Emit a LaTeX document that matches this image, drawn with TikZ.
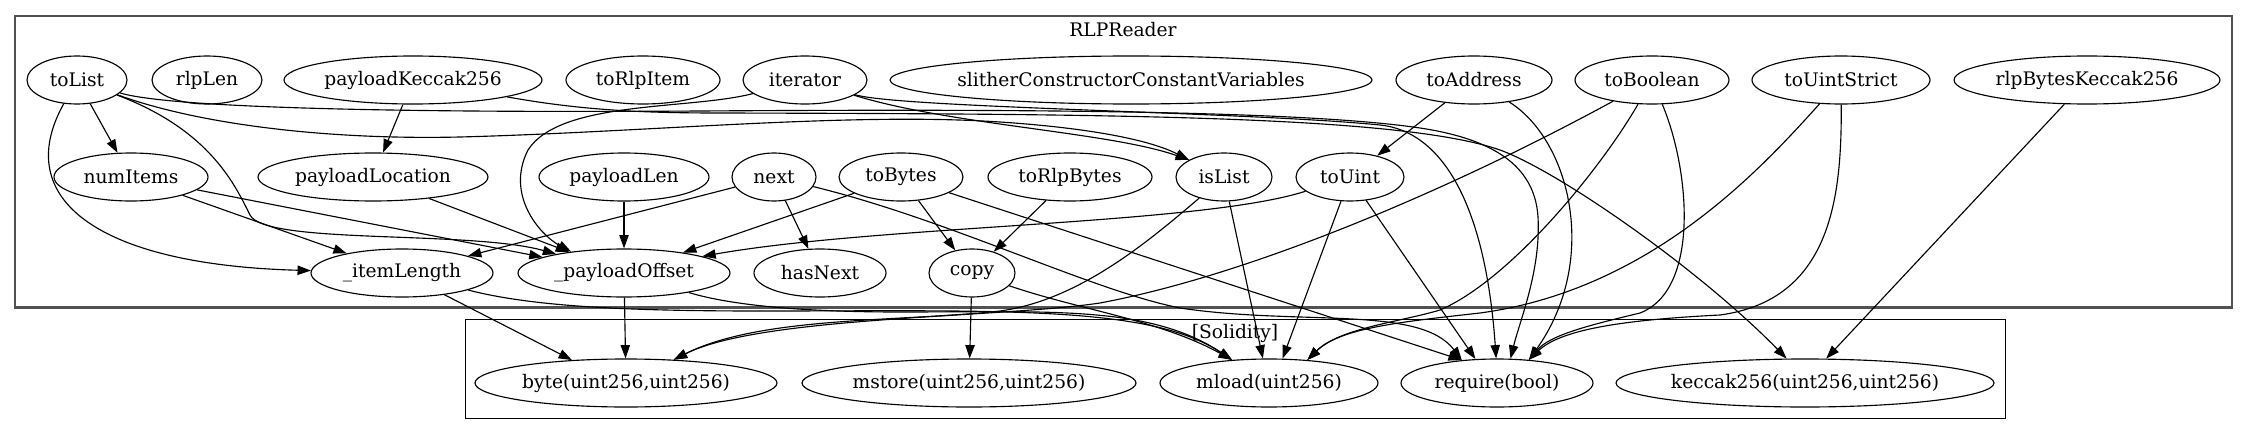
\documentclass[tikz,border=0pt]{standalone}
\usepackage{fontspec}
\setmainfont{DejaVu Serif}
\usetikzlibrary{shapes.geometric,arrows.meta}
\newcommand\zw[1]{\hbox to 0pt{\hss#1\hss}}
\begin{document}
\begin{tikzpicture}[x=0.75pt,y=-0.75pt,
  fn/.style={ellipse, draw, line width=0.85pt, inner sep=0pt, minimum height=36pt, font=\fontsize{14pt}{16pt}\selectfont},
  lbl/.style={inner sep=0pt, font=\fontsize{14pt}{16pt}\selectfont},
  e/.style={-{Triangle[length=10pt,width=7pt]}, line width=0.85pt},
  clusterA/.style={draw=black!68, line width=1.6pt, outer sep=0pt, inner sep=0pt},
  clusterB/.style={draw=black, line width=0.75pt, outer sep=0pt, inner sep=0pt}]
\useasboundingbox (0,0) rectangle (2248,435);

% clusters
\node[clusterA, minimum width=1662.75pt, minimum height=218.6pt] (clR) at (1123.5,161.75) {};
\node[clusterB, minimum width=1155pt, minimum height=74.25pt] (clS) at (1235,368.5) {};
\node[lbl] (lblR) at (1123,30) {RLPReader};
\node[lbl] (lblS) at (1235,333) {[Solidity]};

% row 1
\node[fn, minimum width=75pt] (toList) at (77,80) {\zw{toList}};
\node[fn, minimum width=82.5pt] (rlpLen) at (207,80) {\zw{rlpLen}};
\node[fn, minimum width=193.5pt] (payloadKeccak) at (413,80) {\zw{payloadKeccak256}};
\node[fn, minimum width=115.5pt] (toRlpItem) at (643,80) {\zw{toRlpItem}};
\node[fn, minimum width=93pt] (iterator) at (805,80) {\zw{iterator}};
\node[fn, minimum width=361.5pt] (slither) at (1131,80) {\zw{slitherConstructorConstantVariables}};
\node[fn, minimum width=117pt] (toAddress) at (1474,80) {\zw{toAddress}};
\node[fn, minimum width=115.5pt] (toBoolean) at (1652,80) {\zw{toBoolean}};
\node[fn, minimum width=133.5pt] (toUintStrict) at (1841,80) {\zw{toUintStrict}};
\node[fn, minimum width=199.5pt] (rlpBytesKeccak) at (2087,80) {\zw{rlpBytesKeccak256}};

% row 2
\node[fn, minimum width=115.5pt] (numItems) at (131,177) {\zw{numItems}};
\node[fn, minimum width=172.5pt] (payloadLocation) at (373,177) {\zw{payloadLocation}};
\node[fn, minimum width=127.5pt] (payloadLen) at (624,177) {\zw{payloadLen}};
\node[fn, minimum width=63pt] (next) at (774,177) {\zw{next}};
\node[fn, minimum width=93pt] (toBytes) at (901,177) {\zw{toBytes}};
\node[fn, minimum width=123pt] (toRlpBytes) at (1070,177) {\zw{toRlpBytes}};
\node[fn, minimum width=72pt] (isList) at (1224,177) {\zw{isList}};
\node[fn, minimum width=81pt] (toUint) at (1350,177) {\zw{toUint}};

% row 3
\node[fn, minimum width=136.5pt] (itemLength) at (402,273) {\zw{\_itemLength}};
\node[fn, minimum width=159pt] (payloadOffset) at (624,273) {\zw{\_payloadOffset}};
\node[fn, minimum width=99pt] (hasNext) at (820,273) {\zw{hasNext}};
\node[fn, minimum width=64.5pt] (copy) at (972,273) {\zw{copy}};

% row 4 (Solidity)
\node[fn, minimum width=226.5pt] (byte) at (626,383) {\zw{byte(uint256,uint256)}};
\node[fn, minimum width=250.5pt] (mstore) at (969,383) {\zw{mstore(uint256,uint256)}};
\node[fn, minimum width=163.5pt] (mload) at (1269,383) {\zw{mload(uint256)}};
\node[fn, minimum width=144pt] (require) at (1497,383) {\zw{require(bool)}};
\node[fn, minimum width=283.5pt] (keccak) at (1805,383) {\zw{keccak256(uint256,uint256)}};

% edges
\draw[e] (toList) -- (numItems);
\draw[e] (toList) .. controls (10,200) and (100,265) .. (itemLength);
\draw[e] (toList) .. controls (210,130) and (235,185) .. (250,215) .. controls (265,245) and (470,230) .. (payloadOffset);
\draw[e] (toList) .. controls (200,125) and (330,140) .. (460,137) .. controls (650,132) and (850,112) .. (1000,122) .. controls (1090,128) and (1150,140) .. (isList.154);
\draw[e] (toList) .. controls (170,108) and (400,113) .. (700,111) .. controls (1000,109) and (1300,110) .. (1420,128) .. controls (1500,140) and (1535,170) .. (1538,217) .. controls (1541,270) and (1520,320) .. (require.61);

\draw[e] (iterator) .. controls (690,110) and (560,100) .. (528,150) .. controls (505,195) and (540,235) .. (payloadOffset.158);
\draw[e] (iterator) .. controls (950,125) and (1110,132) .. (isList.154);
\draw[e] (iterator) .. controls (900,108) and (1250,112) .. (1380,125) .. controls (1440,131) and (1485,200) .. (require.92);

\draw[e] (payloadKeccak) -- (payloadLocation);
\draw[e] (payloadKeccak) .. controls (580,110) and (640,113) .. (720,113) .. controls (1100,114) and (1400,115) .. (1500,150) .. controls (1560,172) and (1700,270) .. (keccak.127);

\draw[e] (numItems) -- (itemLength);
\draw[e] (numItems) -- (payloadOffset);
\draw[e] (payloadLocation) -- (payloadOffset);
\draw[e] (payloadLen) -- (payloadOffset);

\draw[e] (next) -- (hasNext);
\draw[e] (next) -- (itemLength);
\draw[e] (next) .. controls (950,220) and (1090,290) .. (1180,308) .. controls (1300,326) and (1420,305) .. (require.147);

\draw[e] (toBytes) -- (require.147);
\draw[e] (toBytes) -- (payloadOffset);
\draw[e] (toBytes) -- (copy);
\draw[e] (toRlpBytes) -- (copy);

\draw[e] (isList) -- (mload.104);
\draw[e] (isList) .. controls (1150,240) and (1080,300) .. (1000,311) .. controls (900,322) and (760,316) .. (byte.26);

\draw[e] (toUint) .. controls (1200,225) and (880,225) .. (payloadOffset.12);
\draw[e] (toUint) -- (mload.61);
\draw[e] (toUint) -- (require.132);

\draw[e] (itemLength) -- (byte.157);
\draw[e] (itemLength) .. controls (530,306) and (620,311) .. (760,311) .. controls (1000,311) and (1150,305) .. (mload.148);
\draw[e] (payloadOffset) -- (byte);
\draw[e] (payloadOffset) .. controls (730,305) and (800,312) .. (900,312) .. controls (1050,312) and (1150,305) .. (mload.148);
\draw[e] (copy) -- (mstore);
\draw[e] (copy) .. controls (1080,310) and (1160,320) .. (mload.148);

\draw[e] (toAddress) -- (toUint);
\draw[e] (toAddress) .. controls (1570,140) and (1600,260) .. (require.36);

\draw[e] (toBoolean) .. controls (1450,190) and (1250,275) .. (1100,303) .. controls (1000,318) and (760,316) .. (byte.26);
\draw[e] (toBoolean) .. controls (1600,170) and (1510,280) .. (1440,310) .. controls (1400,322) and (1340,328) .. (mload.31);
\draw[e] (toBoolean) .. controls (1690,170) and (1700,290) .. (1640,313) .. controls (1590,325) and (1550,335) .. (require.36);

\draw[e] (toUintStrict) .. controls (1760,170) and (1650,290) .. (1480,313) .. controls (1400,322) and (1340,328) .. (mload.31);
\draw[e] (toUintStrict) .. controls (1842,200) and (1830,300) .. (1720,315) .. controls (1620,320) and (1560,330) .. (require.36);

\draw[e] (rlpBytesKeccak) -- (keccak.49);
\end{tikzpicture}
\end{document}
